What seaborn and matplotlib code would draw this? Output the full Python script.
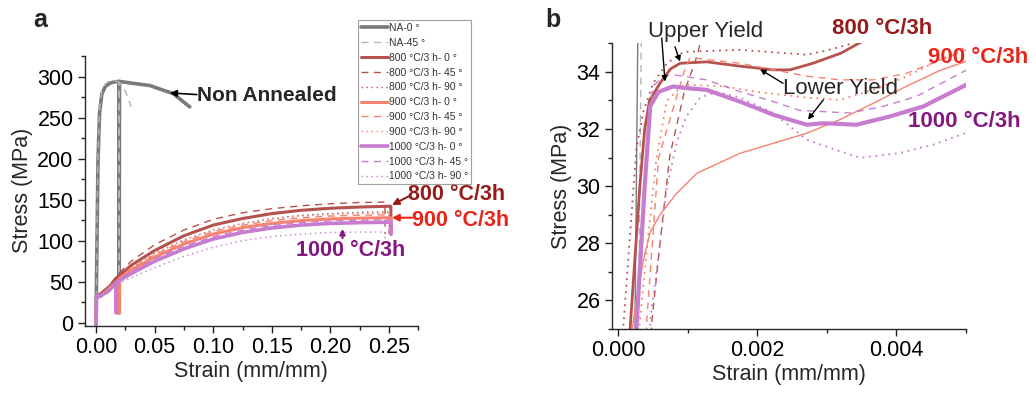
import matplotlib
matplotlib.use("Agg")
import matplotlib.pyplot as plt
import seaborn as sns
import pandas as pd

# ---------------- data (strain mm/mm, stress MPa) ----------------
NA_0_strain = [0.00012, 0.00024, 0.00028, 0.0017, 0.003, 0.005, 0.008, 0.012, 0.016, 0.0196, 0.0198, 0.0200,
               0.030, 0.046, 0.066, 0.080]
NA_0_stress = [0, 25, 35, 198, 255, 279, 288, 292, 293.5, 294, 12, 294, 292, 289, 279, 263]

NA_45_strain = [0.00013, 0.00029, 0.00033, 0.0015, 0.003, 0.005, 0.008, 0.012, 0.016, 0.0195, 0.0197, 0.0199,
                0.024, 0.027, 0.030]
NA_45_stress = [0, 25, 35, 195, 258, 282, 291, 295.5, 295, 293, 12, 293, 285, 275, 263]

A800_0_strain = [0.00005, 0.00017, 0.00031, 0.00038, 0.00045, 0.0006, 0.00075, 0.00089, 0.00127, 0.00175, 0.00223,
                 0.00247, 0.0028, 0.0032, 0.0035, 0.0045, 0.01, 0.0184, 0.0185, 0.0186, 0.03, 0.05, 0.075, 0.1,
                 0.125, 0.15, 0.175, 0.2, 0.225, 0.2515, 0.2518]
A800_0_stress = [-3, 25, 30, 32, 33, 33.6, 34.1, 34.3, 34.35, 34.2, 34.07, 34.07, 34.3, 34.65, 35.05, 36, 42, 55, 12,
                 56, 70, 88, 106, 119, 127, 133, 137, 139.5, 141, 142, 108]

A800_45_strain = [0.0003, 0.00048, 0.0006, 0.00074, 0.00095, 0.00113, 0.0012, 0.0045, 0.01, 0.0184, 0.0185, 0.0186,
                  0.03, 0.05, 0.075, 0.1, 0.125, 0.15, 0.175, 0.2, 0.225, 0.2465, 0.2467]
A800_45_stress = [-3, 25.2, 28, 31.05, 33.3, 34.53, 35.2, 37, 44, 58, 12, 59, 75, 95, 113, 126, 134, 139, 142.5, 145,
                  146.5, 147, 108]

A800_90_strain = [0.00002, 0.00007, 0.00019, 0.00026, 0.00036, 0.0005, 0.0007, 0.00094, 0.00175, 0.00271, 0.003,
                  0.0033, 0.0036, 0.006, 0.01, 0.0184, 0.0185, 0.0186, 0.03, 0.05, 0.075, 0.1, 0.125, 0.15, 0.175,
                  0.2, 0.225, 0.25, 0.2502]
A800_90_stress = [-3, 25, 29, 31.3, 32.6, 33.6, 34.3, 34.7, 34.77, 34.6, 34.75, 34.95, 35.2, 37, 41, 54, 12, 55, 67,
                  84, 101, 113, 121, 127, 131, 133, 134.5, 135, 108]

A900_0_strain = [0.00008, 0.0002, 0.00026, 0.00036, 0.00046, 0.0006, 0.00084, 0.00113, 0.00175, 0.00223, 0.00271,
                 0.00319, 0.00367, 0.00415, 0.00463, 0.0051, 0.01, 0.0199, 0.0200, 0.0201, 0.03, 0.05, 0.075, 0.1,
                 0.125, 0.15, 0.175, 0.2, 0.225, 0.2515, 0.2517]
A900_0_stress = [-3, 25, 26, 27.4, 28.4, 29.0, 29.75, 30.45, 31.15, 31.5, 31.85, 32.33, 32.9, 33.5, 34.05, 34.45, 40,
                 53, 12, 54, 64, 80, 96, 108, 116, 121, 124.5, 126.5, 127.5, 128, 108]

A900_45_strain = [0.00028, 0.00041, 0.00055, 0.00058, 0.00094, 0.00103, 0.00175, 0.00271, 0.00319, 0.00367, 0.00415,
                  0.00501, 0.0055, 0.01, 0.0199, 0.0200, 0.0201, 0.03, 0.05, 0.075, 0.1, 0.125, 0.15, 0.175, 0.2,
                  0.225, 0.25, 0.2502]
A900_45_stress = [-3, 25.3, 30, 31, 33.95, 34.5, 34.3, 33.85, 33.72, 33.72, 33.95, 34.77, 35.3, 41, 54, 12, 55, 66,
                  83, 99, 111, 119, 124.5, 128, 130, 131, 131.5, 108]

A900_90_strain = [0.0002, 0.0003, 0.00042, 0.00055, 0.0007, 0.00094, 0.00151, 0.00199, 0.00271, 0.00319, 0.00367,
                  0.00415, 0.00501, 0.0055, 0.01, 0.0199, 0.0200, 0.0201, 0.03, 0.05, 0.075, 0.1, 0.125, 0.15,
                  0.175, 0.2, 0.225, 0.25, 0.2502]
A900_90_stress = [-3, 25, 28, 31, 33, 33.55, 33.5, 33.3, 33.1, 33.02, 33.37, 33.84, 34.88, 35.4, 41, 54, 12, 55, 67,
                  85, 101, 113, 121, 126.5, 130, 132, 133, 133.5, 108]

A1000_0_strain = [0.00012, 0.00026, 0.00038, 0.00046, 0.00058, 0.00079, 0.00098, 0.00127, 0.00175, 0.00223, 0.00271,
                  0.00295, 0.00343, 0.00391, 0.00439, 0.00496, 0.0056, 0.01, 0.0171, 0.0172, 0.0173, 0.03, 0.05,
                  0.075, 0.1, 0.125, 0.15, 0.175, 0.2, 0.225, 0.2515, 0.2517]
A1000_0_stress = [-3, 25, 30, 32.8, 33.3, 33.49, 33.43, 33.37, 32.96, 32.5, 32.15, 32.2, 32.15, 32.44, 32.79, 33.49,
                  34.3, 38, 48, 12, 49, 60, 75, 90, 102, 110, 115.5, 119, 121, 122, 122.5, 108]

A1000_45_strain = [0.00012, 0.00025, 0.00035, 0.00042, 0.0005, 0.00065, 0.00079, 0.00127, 0.00175, 0.00223, 0.00261,
                   0.00333, 0.00381, 0.00429, 0.005, 0.0056, 0.01, 0.0171, 0.0172, 0.0173, 0.03, 0.05, 0.075, 0.1,
                   0.125, 0.15, 0.175, 0.2, 0.225, 0.25, 0.2502]
A1000_45_stress = [-3, 25, 29, 32, 33.5, 33.85, 33.9, 33.72, 33.31, 32.96, 32.65, 32.56, 32.79, 33.14, 34.05, 34.6, 39,
                   50, 12, 51, 62, 78, 93, 105, 113, 118.5, 122, 124, 125, 125.5, 108]

A1000_90_strain = [0.00032, 0.00046, 0.0006, 0.0007, 0.00085, 0.00098, 0.00118, 0.00142, 0.00175, 0.00223, 0.00271,
                   0.00309, 0.00348, 0.00405, 0.00453, 0.005, 0.0056, 0.01, 0.0171, 0.0172, 0.0173, 0.03, 0.05,
                   0.075, 0.1, 0.125, 0.15, 0.175, 0.2, 0.225, 0.2465, 0.2467]
A1000_90_stress = [-3, 25.3, 28, 30, 31.6, 32.44, 33.1, 33.3, 33.1, 32.56, 31.63, 31.3, 30.99, 31.16, 31.45, 31.86,
                   32.5, 36, 45, 12, 46, 55, 67, 81, 92, 100, 105, 108, 110, 110.5, 110.5, 100]

series_labels = ["NA-0 °", "NA-45 °",
                 "800 °C/3 h- 0 °", "800 °C/3 h- 45 °", "800 °C/3 h- 90 °",
                 "900 °C/3 h- 0 °", "900 °C/3 h- 45 °", "900 °C/3 h- 90 °",
                 "1000 °C/3 h- 0 °", "1000 °C/3 h- 45 °", "1000 °C/3 h- 90 °"]
series_strain = [NA_0_strain, NA_45_strain, A800_0_strain, A800_45_strain, A800_90_strain,
                 A900_0_strain, A900_45_strain, A900_90_strain, A1000_0_strain, A1000_45_strain, A1000_90_strain]
series_stress = [NA_0_stress, NA_45_stress, A800_0_stress, A800_45_stress, A800_90_stress,
                 A900_0_stress, A900_45_stress, A900_90_stress, A1000_0_stress, A1000_45_stress, A1000_90_stress]

# ---------------- styles ----------------
c_na, c_na45 = "#7a7a7a", "#b4b4b4"
c800, c900, c1000 = "#b5524e", "#f5836f", "#c77ccf"
DASH = (0, (5, 4))
DOT = (0, (1, 2.6))
styles = [
    dict(color=c_na, ls="-", lw_a=2.6, lw_b=1.0),
    dict(color=c_na45, ls=DASH, lw_a=1.0, lw_b=1.0),
    dict(color=c800, ls="-", lw_a=2.2, lw_b=2.0),
    dict(color=c800, ls=DASH, lw_a=1.0, lw_b=1.0),
    dict(color=c800, ls=DOT, lw_a=1.0, lw_b=1.3),
    dict(color=c900, ls="-", lw_a=2.2, lw_b=1.0),
    dict(color=c900, ls=DASH, lw_a=1.0, lw_b=1.0),
    dict(color=c900, ls=DOT, lw_a=1.0, lw_b=1.3),
    dict(color=c1000, ls="-", lw_a=2.6, lw_b=3.0),
    dict(color=c1000, ls=DASH, lw_a=1.0, lw_b=1.0),
    dict(color=c1000, ls=DOT, lw_a=1.0, lw_b=1.3),
]

sns.set_theme(style="ticks")
plt.rcParams["font.family"] = ["Liberation Sans", "DejaVu Sans"]
plt.rcParams["axes.linewidth"] = 1.0

frames = []
for lab, xs, ys in zip(series_labels, series_strain, series_stress):
    frames.append(pd.DataFrame({"strain": xs, "stress": ys, "series": lab}))
df = pd.concat(frames, ignore_index=True)

fig = plt.figure(figsize=(10.36, 3.96), dpi=100)
ax_a = fig.add_axes([0.0816, 0.1775, 0.3222, 0.6811])
ax_b = fig.add_axes([0.5904, 0.1692, 0.3420, 0.7215])

for lab, st in zip(series_labels, styles):
    d = df[df["series"] == lab]
    sns.lineplot(data=d, x="strain", y="stress", ax=ax_a, sort=False, estimator=None,
                 color=st["color"], linestyle=st["ls"], linewidth=st["lw_a"], label=lab)
    sns.lineplot(data=d, x="strain", y="stress", ax=ax_b, sort=False, estimator=None,
                 color=st["color"], linestyle=st["ls"], linewidth=st["lw_b"], legend=False)

FS = 15.5
for ax in (ax_a, ax_b):
    sns.despine(ax=ax)
    ax.tick_params(axis="both", which="major", direction="out", length=5, width=1,
                   labelsize=FS, colors="#222222", labelcolor="black", pad=3)
    ax.tick_params(axis="both", which="minor", direction="out", length=3, width=1, colors="#222222")
    ax.set_xlabel("Strain (mm/mm)", fontsize=FS, labelpad=2)
    ax.set_ylabel("Stress (MPa)", fontsize=FS, labelpad=3)

# panel a axes
ax_a.set_xlim(-0.0098, 0.2748)
ax_a.set_ylim(-3.6, 324.3)
ax_a.set_xticks([0.0, 0.05, 0.10, 0.15, 0.20, 0.25])
ax_a.set_xticklabels(["0.00", "0.05", "0.10", "0.15", "0.20", "0.25"])
ax_a.set_xticks([0.025, 0.075, 0.125, 0.175, 0.225, 0.275], minor=True)
ax_a.set_yticks([0, 50, 100, 150, 200, 250, 300])
ax_a.set_yticks([25, 75, 125, 175, 225, 275, 325], minor=True)

# panel b axes
ax_b.set_xlim(-0.0000955, 0.005003)
ax_b.set_ylim(25, 35)
ax_b.set_xticks([0.0, 0.002, 0.004])
ax_b.set_xticklabels(["0.000", "0.002", "0.004"])
ax_b.set_xticks([0.001, 0.003, 0.005], minor=True)
ax_b.set_yticks([26, 28, 30, 32, 34])
ax_b.set_yticks([25, 27, 29, 31, 33, 35], minor=True)

# legend
leg = ax_a.get_legend()
if leg is not None:
    leg.remove()
handles, labels = ax_a.get_legend_handles_labels()
lg = fig.legend(handles, labels, loc="upper left", bbox_to_anchor=(358 / 1036, 1 - 20 / 396),
                bbox_transform=fig.transFigure, fontsize=7.4, frameon=True, fancybox=False,
                labelspacing=0.47, handlelength=2.6, handletextpad=0.1, borderpad=0.3,
                borderaxespad=0)
lg.get_frame().set_edgecolor("#8a8a8a")
lg.get_frame().set_linewidth(0.8)
for t in lg.get_texts():
    t.set_color("#333333")

# annotations panel a
dark_red, red, purple = "#961c1c", "#e8251b", "#85187f"
ax_a.text(0.086, 277, "Non Annealed", fontsize=15, fontweight="bold", ha="left", va="center")
ax_a.annotate("", xy=(0.063, 280), xytext=(0.086, 278),
              arrowprops=dict(arrowstyle="-|>", color="black", lw=1.2, mutation_scale=10, shrinkA=0, shrinkB=0))
ax_a.text(0.2665, 156, "800 °C/3h", fontsize=15.5, fontweight="bold", color=dark_red, ha="left", va="center",
          clip_on=False)
ax_a.annotate("", xy=(0.2525, 143.5), xytext=(0.2668, 154),
              arrowprops=dict(arrowstyle="-|>", color=dark_red, lw=1.5, mutation_scale=10, shrinkA=0, shrinkB=0))
ax_a.text(0.2695, 124.8, "900 °C/3h", fontsize=15.5, fontweight="bold", color=red, ha="left", va="center",
          clip_on=False)
ax_a.annotate("", xy=(0.2525, 128), xytext=(0.2698, 128),
              arrowprops=dict(arrowstyle="-|>", color=red, lw=1.5, mutation_scale=10, shrinkA=0, shrinkB=0))
ax_a.text(0.217, 88.3, "1000 °C/3h", fontsize=15.5, fontweight="bold", color=purple, ha="center", va="center")
ax_a.annotate("", xy=(0.2103, 114.5), xytext=(0.2103, 103),
              arrowprops=dict(arrowstyle="-|>", color=purple, lw=1.5, mutation_scale=8, shrinkA=0, shrinkB=0))

# annotations panel b
ax_b.text(0.000427, 35.4, "Upper Yield", fontsize=16, ha="left", va="center", clip_on=False)
ax_b.annotate("", xy=(0.000672, 33.66), xytext=(0.000625, 35.18), annotation_clip=False,
              arrowprops=dict(arrowstyle="-|>", color="black", lw=1.0, mutation_scale=8, shrinkA=0, shrinkB=0))
ax_b.annotate("", xy=(0.000888, 34.36), xytext=(0.000816, 34.88), annotation_clip=False,
              arrowprops=dict(arrowstyle="-|>", color="black", lw=1.0, mutation_scale=8, shrinkA=0, shrinkB=0))
ax_b.text(0.00237, 33.42, "Lower Yield", fontsize=16, ha="left", va="center")
ax_b.annotate("", xy=(0.00204, 34.09), xytext=(0.00237, 33.6),
              arrowprops=dict(arrowstyle="-|>", color="black", lw=1.0, mutation_scale=8, shrinkA=0, shrinkB=0))
ax_b.annotate("", xy=(0.00273, 32.33), xytext=(0.00295, 33.02),
              arrowprops=dict(arrowstyle="-|>", color="black", lw=1.0, mutation_scale=8, shrinkA=0, shrinkB=0))
ax_b.text(0.00307, 35.5, "800 °C/3h", fontsize=16, fontweight="bold", color=dark_red, ha="left", va="center",
          clip_on=False)
ax_b.text(0.00446, 34.5, "900 °C/3h", fontsize=16, fontweight="bold", color=red, ha="left", va="center",
          clip_on=False)
ax_b.text(0.00417, 32.26, "1000 °C/3h", fontsize=16, fontweight="bold", color=purple, ha="left", va="center",
          clip_on=False)

# panel letters
fig.text(40 / 1036, 1 - 20 / 396, "a", fontsize=18, fontweight="bold", ha="center", va="center")
fig.text(553 / 1036, 1 - 20 / 396, "b", fontsize=18, fontweight="bold", ha="center", va="center")

fig.savefig("out.png", dpi=100, facecolor="white")
